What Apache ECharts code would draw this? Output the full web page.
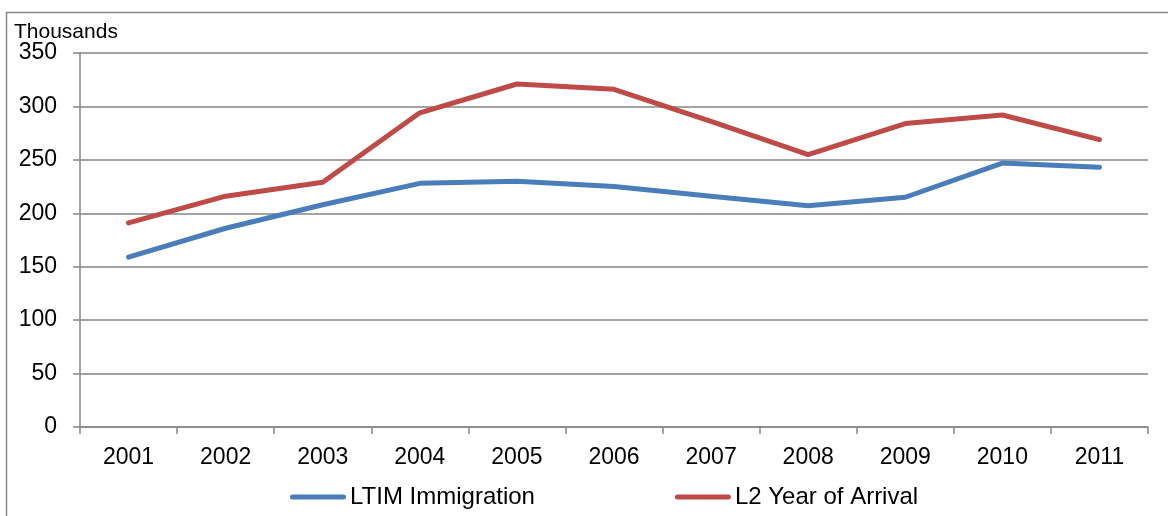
<!DOCTYPE html>
<html>
<head>
<meta charset="utf-8">
<style>
  html, body { margin: 0; padding: 0; background: #fff; }
  #chart { width: 1168px; height: 516px; }
</style>
<script src="https://cdn.jsdelivr.net/npm/echarts@6/dist/echarts.min.js"></script>
</head>
<body>
<div id="chart"></div>
<script>
// Immigration estimates, thousands of people per year
const years = ['2001', '2002', '2003', '2004', '2005', '2006', '2007', '2008', '2009', '2010', '2011'];
const ltimImmigration = [159, 186, 208, 228, 230, 225, 216, 207, 215, 247, 243];
const l2YearOfArrival = [191, 216, 229, 294, 321, 316, 286, 255, 284, 292, 269];
const seriesNames = ['LTIM Immigration', 'L2 Year of Arrival'];
const unitLabel = 'Thousands';

const FONT = 'Liberation Sans, Arial, sans-serif';
const GRID_GRAY = '#868686';
// legend key: a short thick bar with rounded ends
const KEY_ICON = 'path://M2.5,0 H53.5 A2.5,2.5 0 0 1 53.5,5 H2.5 A2.5,2.5 0 0 1 2.5,0 Z';

const chart = echarts.init(document.getElementById('chart'), null, { renderer: 'canvas' });

chart.setOption({
  animation: false,
  backgroundColor: '#ffffff',
  grid: { left: 80, right: 20, top: 53, bottom: 89, containLabel: false },
  graphic: [
    {
      type: 'rect',
      shape: { x: 6.5, y: 12.5, width: 1300, height: 700 },
      style: { fill: 'none', stroke: GRID_GRAY, lineWidth: 1.5 },
      silent: true
    },
    {
      type: 'text',
      left: 14,
      top: 22,
      style: { text: unitLabel, font: '21px ' + FONT, fill: '#000' }
    }
  ],
  legend: {
    data: seriesNames,
    icon: KEY_ICON,
    left: 290,
    top: 485,
    padding: 0,
    itemWidth: 56,
    itemHeight: 5,
    itemGap: 140,
    textStyle: { fontFamily: FONT, fontSize: 24, color: '#000', padding: [0, 0, 0, -1] }
  },
  xAxis: {
    type: 'category',
    data: years,
    boundaryGap: true,
    axisLine: { lineStyle: { color: GRID_GRAY, width: 1.5 } },
    axisTick: { show: true, length: 7, lineStyle: { color: GRID_GRAY, width: 1.5 } },
    axisLabel: { margin: 19, fontFamily: FONT, fontSize: 23, color: '#000' }
  },
  yAxis: {
    type: 'value',
    min: 0,
    max: 350,
    interval: 50,
    axisLine: { show: true, lineStyle: { color: GRID_GRAY, width: 1.5 } },
    axisTick: { show: true, length: 7, lineStyle: { color: GRID_GRAY, width: 1.5 } },
    axisLabel: { margin: 23, fontFamily: FONT, fontSize: 23, color: '#000' },
    splitLine: { show: true, lineStyle: { color: GRID_GRAY, width: 1.5 } }
  },
  series: [
    {
      name: seriesNames[0],
      type: 'line',
      data: ltimImmigration,
      symbol: 'none',
      color: '#4A7EBB',
      lineStyle: { width: 5, color: '#4A7EBB', cap: 'round', join: 'round' }
    },
    {
      name: seriesNames[1],
      type: 'line',
      data: l2YearOfArrival,
      symbol: 'none',
      color: '#BE4B48',
      lineStyle: { width: 5, color: '#BE4B48', cap: 'round', join: 'round' }
    }
  ]
});
</script>
</body>
</html>
